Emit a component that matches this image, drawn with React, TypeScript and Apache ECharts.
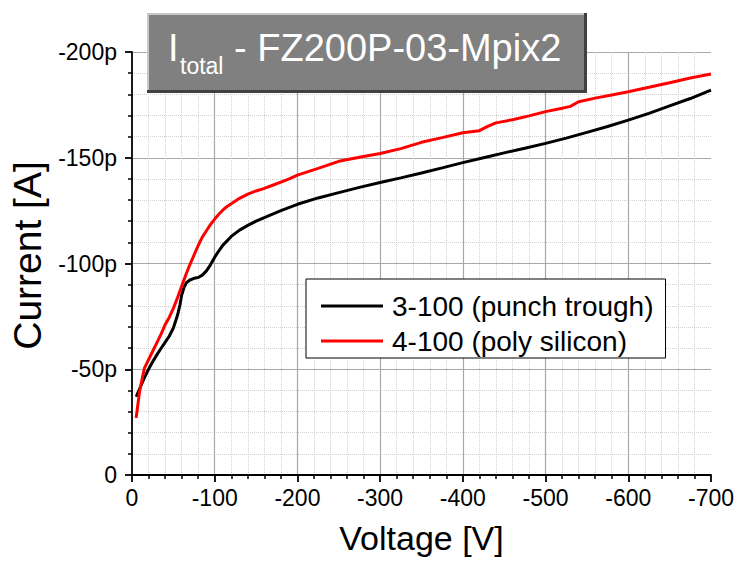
import React, { useEffect, useRef } from "react";
import * as echarts from "echarts";

// ---- data (values in V and pA) ----
const blackVoltage = [-5, -10, -15, -20, -25, -30, -35, -40, -45, -50, -55, -58, -60, -63, -66, -70, -75, -80, -85, -90, -95, -100, -105, -110, -120, -130, -140, -150, -160, -170, -180, -200, -225, -250, -275, -300, -325, -350, -375, -400, -425, -450, -475, -500, -525, -550, -575, -600, -625, -650, -675, -700];
const blackCurrent = [-37, -41.5, -46, -50, -53.5, -56.8, -59.8, -62.7, -65.6, -69.5, -75.5, -80.5, -85, -88.8, -91, -92.2, -93, -93.4, -94.5, -96.5, -99.5, -103, -106, -108.7, -112.8, -115.8, -118, -120, -121.7, -123.3, -125, -128, -131, -133.5, -136, -138.3, -140.5, -142.8, -145.2, -147.7, -150, -152.3, -154.5, -156.8, -159.3, -162, -164.8, -167.8, -171, -174.5, -178, -182];

const redVoltage = [-5, -7, -9, -12, -15, -20, -25, -30, -35, -40, -45, -50, -55, -60, -65, -70, -75, -80, -85, -90, -95, -100, -105, -110, -115, -120, -130, -140, -150, -160, -170, -180, -190, -200, -225, -250, -275, -300, -325, -350, -375, -400, -420, -430, -440, -460, -480, -500, -520, -530, -540, -560, -580, -600, -625, -650, -675, -700];
const redCurrent = [-27, -33, -39, -45, -50.5, -54.5, -58.5, -62.5, -66.5, -71, -74.5, -78.8, -83.8, -89.2, -94.5, -99.5, -104, -108.5, -112.5, -115.5, -118.5, -121, -123.3, -125.3, -127, -128.3, -130.8, -132.8, -134.3, -135.5, -137, -138.5, -140, -141.8, -145, -148.3, -150.2, -152, -154.3, -157.3, -159.5, -161.8, -162.8, -164.8, -166.5, -168, -169.8, -171.8, -173.4, -174.3, -176.5, -178.2, -179.7, -181.2, -183.3, -185.5, -187.7, -189.6];

const seriesNames = ["3-100 (punch trough)", "4-100 (poly silicon)"];
const seriesColors = ["#000000", "#ff0000"];
const titleMain = "I";
const titleSub = "total";
const titleRest = "- FZ200P-03-Mpix2";
const xAxisName = "Voltage [V]";
const yAxisName = "Current [A]";

const FONT = '"Liberation Sans", Arial, sans-serif';

function pairs(xs: number[], ys: number[]) {
  return xs.map((x, i) => [x, ys[i]]);
}

export default function App() {
  const ref = useRef<HTMLDivElement>(null);

  useEffect(() => {
    if (!ref.current) return;
    const chart = echarts.init(ref.current, null, { renderer: "svg" });
    const axisCommon = {
      axisLine: { show: true, onZero: false, lineStyle: { color: "#000", width: 1.8 } },
      axisTick: { show: true, inside: false, length: 7, lineStyle: { color: "#000", width: 1.8 } },
      minorTick: { show: true, splitNumber: 5, length: 4, lineStyle: { color: "#000", width: 1.5 } },
      minorSplitLine: { show: true, lineStyle: { color: "#d2d2d2", type: "dotted", width: 1 } },
    };
    chart.setOption({
      animation: false,
      backgroundColor: "#ffffff",
      grid: { left: 132, right: 26, top: 52, bottom: 87, containLabel: false },
      xAxis: {
        type: "value",
        min: -700,
        max: 0,
        interval: 100,
        inverse: true,
        name: xAxisName,
        nameLocation: "middle",
        nameGap: 46,
        nameTextStyle: { fontSize: 34, fontFamily: FONT, color: "#000" },
        ...axisCommon,
        axisLabel: {
          margin: 11,
          fontSize: 23,
          fontFamily: FONT,
          color: "#000",
          formatter: (v: number) => String(v),
        },
        splitLine: { show: true, showMinLine: false, showMaxLine: false, lineStyle: { color: "#a8a8a8", width: 1.2 } },
      },
      yAxis: {
        type: "value",
        min: -200,
        max: 0,
        interval: 50,
        inverse: true,
        name: yAxisName,
        nameLocation: "middle",
        nameGap: 80,
        nameTextStyle: { fontSize: 39, fontFamily: FONT, color: "#000", padding: [0, 0, 0, 16] },
        ...axisCommon,
        axisLabel: {
          margin: 15,
          fontSize: 23,
          fontFamily: FONT,
          color: "#000",
          formatter: (v: number) => (v === 0 ? "0" : `${v}p`),
        },
        splitLine: { show: true, showMinLine: true, showMaxLine: false, lineStyle: { color: "#a8a8a8", width: 1.2 } },
      },
      legend: {
        orient: "vertical",
        left: 306,
        top: 279,
        padding: [12, 12, 2, 15],
        itemGap: 5,
        itemWidth: 62,
        itemHeight: 3,
        icon: "rect",
        backgroundColor: "#ffffff",
        borderColor: "#000",
        borderWidth: 1,
        borderRadius: 0,
        textStyle: { fontSize: 28, fontFamily: FONT, color: "#000", lineHeight: 30, padding: [0, 0, 0, 4] },
        data: seriesNames,
        z: 10,
      },
      series: [
        {
          name: seriesNames[0],
          type: "line",
          data: pairs(blackVoltage, blackCurrent),
          showSymbol: false,
          symbol: "none",
          lineStyle: { color: seriesColors[0], width: 3 },
          itemStyle: { color: seriesColors[0] },
          z: 3,
        },
        {
          name: seriesNames[1],
          type: "line",
          data: pairs(redVoltage, redCurrent),
          showSymbol: false,
          symbol: "none",
          lineStyle: { color: seriesColors[1], width: 3 },
          itemStyle: { color: seriesColors[1] },
          z: 4,
        },
      ],
      graphic: [
        { type: "rect", z: 100, shape: { x: 147, y: 13, width: 440, height: 80 }, style: { fill: "#404040" } },
        { type: "rect", z: 101, shape: { x: 147, y: 13, width: 437, height: 77 }, style: { fill: "#c8c8c8" } },
        { type: "rect", z: 102, shape: { x: 149, y: 15, width: 435, height: 75 }, style: { fill: "#808080" } },
        {
          type: "text", z: 103, x: 168, y: 48,
          style: { text: titleMain, fill: "#fff", fontSize: 38, fontFamily: FONT, align: "left", verticalAlign: "middle" },
        },
        {
          type: "text", z: 103, x: 180, y: 66,
          style: { text: titleSub, fill: "#fff", fontSize: 23, fontFamily: FONT, align: "left", verticalAlign: "middle" },
        },
        {
          type: "text", z: 103, x: 234, y: 48,
          style: { text: titleRest, fill: "#fff", fontSize: 38, fontFamily: FONT, align: "left", verticalAlign: "middle" },
        },
      ],
    });
    return () => chart.dispose();
  }, []);

  return <div ref={ref} style={{ position: "fixed", left: 0, top: 0, width: 737, height: 562 }} />;
}
